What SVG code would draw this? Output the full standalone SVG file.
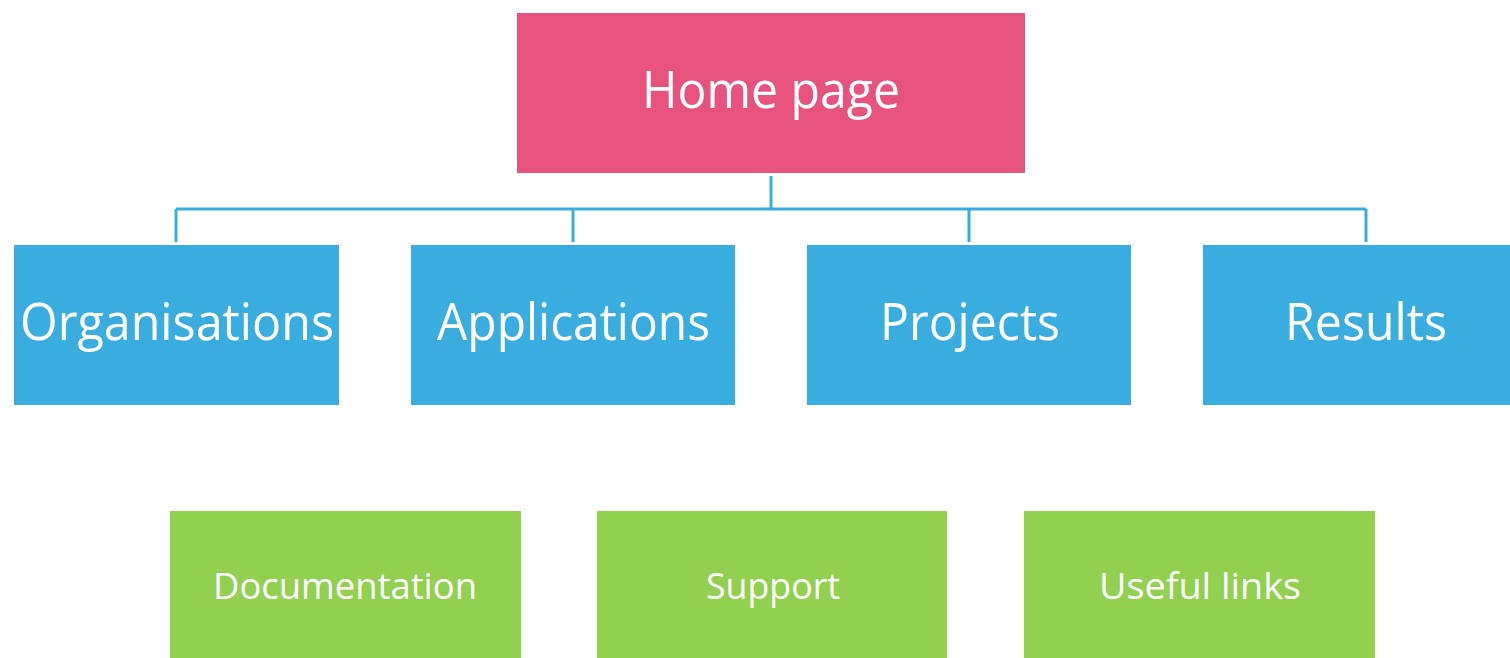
<svg xmlns="http://www.w3.org/2000/svg" width="1510" height="658" viewBox="0 0 1510 658">
<style>
text{font-family:"Open Sans","Liberation Sans",sans-serif;fill:#ffffff;text-anchor:middle}
.pink{fill:#E8537E}
.blue{fill:#39ADDF}
.green{fill:#92D050}
.big{font-size:52px}
.small{font-size:37px}
.conn{stroke:#39ADDF;stroke-width:3;fill:none}
</style>
<rect width="1510" height="658" fill="#ffffff"/>
<g id="connectors">
<path class="conn" d="M771 176V209M176 209H1366M176 209V242M573 209V242M969 209V242M1366 209V242"/>
</g>
<g id="home"><rect class="pink" x="517" y="13" width="508" height="160"/><text class="big" x="771" y="108" textLength="258" lengthAdjust="spacingAndGlyphs">Home page</text></g>
<g id="organisations"><rect class="blue" x="14" y="245" width="325" height="160"/><text class="big" x="177" y="340" textLength="314" lengthAdjust="spacingAndGlyphs">Organisations</text></g>
<g id="applications"><rect class="blue" x="411" y="245" width="324" height="160"/><text class="big" x="573.5" y="340" textLength="273" lengthAdjust="spacingAndGlyphs">Applications</text></g>
<g id="projects"><rect class="blue" x="807" y="245" width="324" height="160"/><text class="big" x="970" y="340" textLength="180" lengthAdjust="spacingAndGlyphs">Projects</text></g>
<g id="results"><rect class="blue" x="1203" y="245" width="307" height="160"/><text class="big" x="1366" y="340" textLength="162" lengthAdjust="spacingAndGlyphs">Results</text></g>
<g id="documentation"><rect class="green" x="170" y="511" width="351" height="147"/><text class="small" x="345" y="599" textLength="264" lengthAdjust="spacingAndGlyphs">Documentation</text></g>
<g id="support"><rect class="green" x="597" y="511" width="350" height="147"/><text class="small" x="773" y="599" textLength="134" lengthAdjust="spacingAndGlyphs">Support</text></g>
<g id="useful-links"><rect class="green" x="1024" y="511" width="351" height="147"/><text class="small" x="1200" y="599" textLength="202" lengthAdjust="spacingAndGlyphs">Useful links</text></g>
</svg>
